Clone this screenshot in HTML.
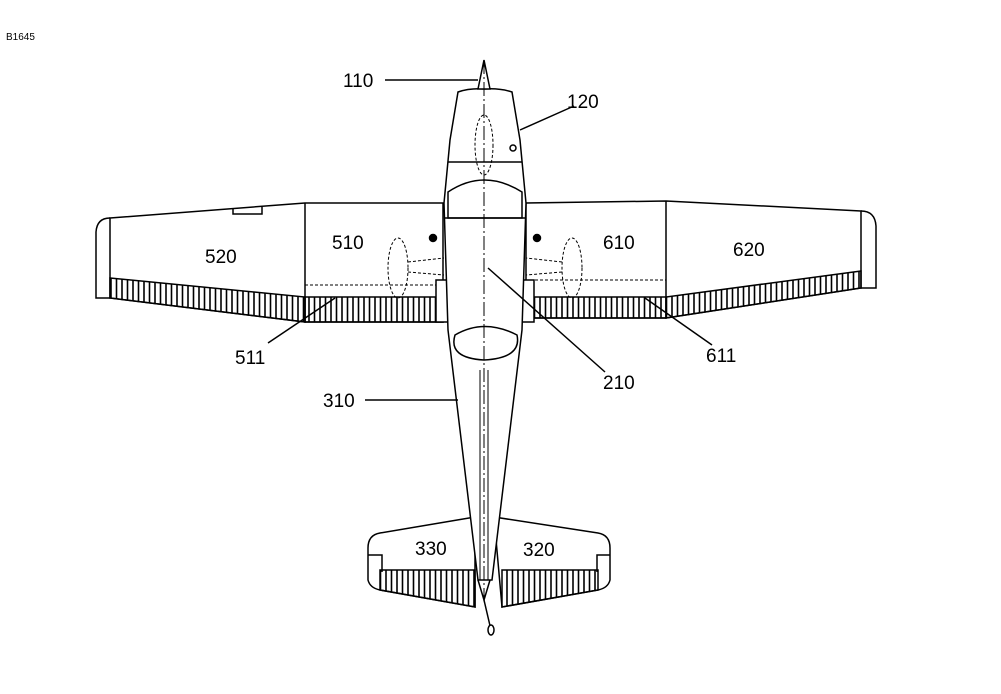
<!DOCTYPE html>
<html><head><meta charset="utf-8"><style>
html,body{margin:0;padding:0;background:#fff;}
svg{display:block;}
text{font-family:"Liberation Sans",sans-serif;fill:#000;}
</style></head><body>
<svg width="1001" height="694" viewBox="0 0 1001 694" xmlns="http://www.w3.org/2000/svg">
<defs>
<pattern id="h" width="5.5" height="10" patternUnits="userSpaceOnUse"><line x1="1" y1="0" x2="1" y2="10" stroke="#000" stroke-width="1.6"/></pattern>
</defs>
<g fill="none" stroke="#000" stroke-width="1.5">
<!-- left wing -->
<path d="M110,218 L305,203 L443,203 L443,322 L305,322 L110,298 Z" fill="#fff"/>
<path d="M110,218 Q97,218 96,232 L96,298 L110,298"/>
<line x1="305" y1="203" x2="305" y2="322"/>
<path d="M110,278 L305,297 L305,322 L110,298 Z" fill="url(#h)"/>
<path d="M305,297 L443,297 L443,322 L305,322 Z" fill="url(#h)"/>
<line x1="305" y1="285" x2="440" y2="285" stroke-dasharray="3,2" stroke-width="1"/>
<rect x="436" y="280" width="20" height="42" fill="#fff"/>
<path d="M233,209 L233,214 L262,214 L262,207"/>
<!-- right wing -->
<path d="M861,211 L666,201 L526,203 L526,318 L666,318 L861,288 Z" fill="#fff"/>
<path d="M861,211 Q875,211 876,226 L876,288 L861,288"/>
<line x1="666" y1="201" x2="666" y2="318"/>
<path d="M861,271 L666,297 L666,318 L861,288 Z" fill="url(#h)"/>
<path d="M526,297 L666,297 L666,318 L526,318 Z" fill="url(#h)"/>
<line x1="530" y1="280" x2="666" y2="280" stroke-dasharray="3,2" stroke-width="1"/>
<rect x="514" y="280" width="20" height="42" fill="#fff"/>
<!-- tail -->
<path d="M475,517 L380,533 Q368,535 368,548 L368,580 Q370,588 380,590 L475,607 Z" fill="#fff"/>
<path d="M380,570 L475,570 L475,607 L380,590 Z" fill="url(#h)"/>
<path d="M368,555 L382,555 L382,572"/>
<path d="M494,517 L598,533 Q610,535 610,548 L610,580 Q608,588 598,590 L502,607 Z" fill="#fff"/>
<path d="M502,570 L598,570 L598,590 L502,607 Z" fill="url(#h)"/>
<path d="M610,555 L597,555 L597,572"/>
<!-- fuselage -->
<path d="M458,92 Q470,88 484,89 Q500,88 512,92 L520,140 L526,203 L522,330 L492,580 L478,580 L448,330 L444,203 L450,140 Z" fill="#fff"/>
<path d="M478,89 L484,60 L490,89 Z" fill="#fff"/>
<line x1="448" y1="162" x2="522" y2="162"/>
<path d="M448,192 Q484,168 522,192 L522,218 L448,218 Z"/>
<line x1="445" y1="218" x2="525" y2="218"/>
<path d="M455,335 Q484,318 517,335 Q522,358 484,360 Q448,358 455,335 Z"/>
<line x1="484" y1="60" x2="484" y2="600" stroke-width="1" stroke-dasharray="14,3,2,3"/>
<line x1="480" y1="370" x2="480" y2="580" stroke-width="1"/>
<line x1="488" y1="370" x2="488" y2="580" stroke-width="1"/>
<path d="M478,580 L484,600 L490,580"/>
<line x1="484" y1="600" x2="491" y2="630"/>
<ellipse cx="491" cy="630" rx="3" ry="5" fill="#fff"/>
<!-- props dashed -->
<ellipse cx="484" cy="145" rx="9" ry="30" stroke-dasharray="3,2" stroke-width="1"/>
<ellipse cx="398" cy="268" rx="10" ry="30" stroke-dasharray="3,2" stroke-width="1"/>
<ellipse cx="572" cy="268" rx="10" ry="30" stroke-dasharray="3,2" stroke-width="1"/>
<path d="M408,262 L444,258 M408,272 L444,275" stroke-dasharray="3,2" stroke-width="1"/>
<path d="M562,262 L526,258 M562,272 L526,275" stroke-dasharray="3,2" stroke-width="1"/>
<circle cx="433" cy="238" r="3.5" fill="#000"/>
<circle cx="537" cy="238" r="3.5" fill="#000"/>
<circle cx="513" cy="148" r="3"/>
<!-- leaders -->
<line x1="385" y1="80" x2="478" y2="80"/>
<line x1="574" y1="106" x2="520" y2="130"/>
<line x1="268" y1="343" x2="335" y2="298"/>
<line x1="605" y1="372" x2="488" y2="268"/>
<line x1="712" y1="345" x2="645" y2="298"/>
<line x1="365" y1="400" x2="458" y2="400"/>
</g>
<text x="6" y="40" font-size="10">B1645</text>
<g font-size="19">
<text x="343" y="87">110</text>
<text x="567" y="108">120</text>
<text x="205" y="263">520</text>
<text x="332" y="249">510</text>
<text x="603" y="249">610</text>
<text x="733" y="256">620</text>
<text x="235" y="364">511</text>
<text x="603" y="389">210</text>
<text x="706" y="362">611</text>
<text x="323" y="407">310</text>
<text x="415" y="555">330</text>
<text x="523" y="556">320</text>
</g>
</svg>
</body></html>
